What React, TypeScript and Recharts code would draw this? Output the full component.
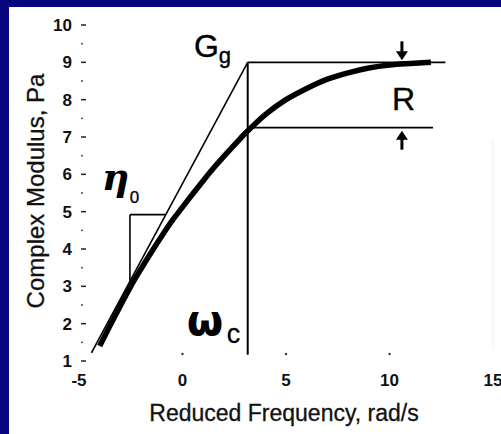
import { ComposedChart, Line, XAxis, YAxis, ReferenceLine, ReferenceDot } from 'recharts';

// reduced frequency (rad/s) vs complex modulus (Pa)
const freq = [-4, -3.5, -3, -2.5, -2, -1.5, -1, -0.5, 0, 0.5, 1, 1.5, 2, 2.5, 3, 3.5, 4, 5, 6, 7, 8, 9, 10, 11, 12];
const modulus = [1.4, 1.95, 2.48, 3.0, 3.47, 3.92, 4.35, 4.76, 5.12, 5.48, 5.83, 6.17, 6.48, 6.78, 7.08, 7.35, 7.6, 8.0, 8.3, 8.55, 8.72, 8.85, 8.93, 8.97, 9.0];

const xTicks = [-5, 0, 5, 10, 15];
const yTicks = [1, 1.5, 2, 2.5, 3, 3.5, 4, 4.5, 5, 5.5, 6, 6.5, 7, 7.5, 8, 8.5, 9, 9.5, 10];

// construction values
const omegaC = 3.15;
const glassyModulus = 9;
const crossModulus = 7.25;
const tangentStart = { x: -4.4, y: 1.22 };
const slopeBox = { x1: -2.54, x2: -0.8, yLow: 3.12, yHigh: 4.92 };
const arrowX = 10.6;

const curve = freq.map((f, i) => ({ f, g: modulus[i] }));

const FONT = '"Liberation Sans", Arial, Helvetica, sans-serif';

const YTick = ({ x, y, payload }: any) => {
  const v = payload.value;
  if (v % 1 !== 0) {
    return <circle cx={x + 3} cy={y} r={0.9} fill="#333" />;
  }
  return (
    <g>
      <line x1={x + 2} x2={x + 7} y1={y} y2={y} stroke="#222" strokeWidth={1.5} />
      <text x={x - 7} y={y + 6} textAnchor="end" fontFamily={FONT} fontWeight="bold" fontSize={17} fill="#111">
        {v}
      </text>
    </g>
  );
};

const XTick = ({ x, y, payload }: any) => {
  const v = payload.value;
  return (
    <g>
      {v > -5 && v < 15 && <circle cx={x} cy={y - 7} r={1.2} fill="#333" />}
      <text x={x} y={y + 25} textAnchor="middle" fontFamily={FONT} fontWeight="bold" fontSize={17} fill="#111">
        {v}
      </text>
    </g>
  );
};

const DownArrow = ({ cx, cy }: any) => (
  <g>
    <line x1={cx} x2={cx} y1={cy - 21} y2={cy - 10} stroke="#000" strokeWidth={3} />
    <polygon points={`${cx - 6},${cy - 11} ${cx + 6},${cy - 11} ${cx},${cy - 2}`} fill="#000" />
  </g>
);

const UpArrow = ({ cx, cy }: any) => (
  <g>
    <line x1={cx} x2={cx} y1={cy + 22} y2={cy + 11} stroke="#000" strokeWidth={3} />
    <polygon points={`${cx - 6},${cy + 12} ${cx + 6},${cy + 12} ${cx},${cy + 3}`} fill="#000" />
  </g>
);

export default function App() {
  return (
    <div style={{ position: 'fixed', left: 0, top: 0, width: 501, height: 434, background: '#05067f', overflow: 'hidden' }}>
      <div style={{ position: 'absolute', left: 9, top: 7, width: 492, height: 427, background: '#fff' }} />
      <div style={{ position: 'absolute', left: 0, top: 0 }}>
        <ComposedChart width={501} height={434} data={curve} margin={{ top: 25, right: 8, bottom: 0, left: 19 }}>
          <XAxis
            type="number"
            dataKey="f"
            domain={[-5, 15]}
            ticks={xTicks}
            interval={0}
            axisLine={false}
            tickLine={false}
            tickSize={0}
            tickMargin={0}
            height={73}
            tick={<XTick />}
            label={{
              content: ({ viewBox }: any) => (
                <text x={viewBox.x + viewBox.width / 2 - 2} y={viewBox.y + 60} textAnchor="middle" fontFamily={FONT} fontSize={23} fill="#111" stroke="#111" strokeWidth={0.3}>
                  Reduced Frequency, rad/s
                </text>
              ),
            }}
          />
          <YAxis
            type="number"
            domain={[1, 10]}
            ticks={yTicks}
            interval={0}
            axisLine={false}
            tickLine={false}
            tickSize={0}
            tickMargin={0}
            width={60}
            tick={<YTick />}
            label={{
              content: ({ viewBox }: any) => {
                const cx = viewBox.x + 16;
                const cy = viewBox.y + viewBox.height / 2 - 2;
                return (
                  <text x={cx} y={cy} transform={`rotate(-90 ${cx} ${cy})`} textAnchor="middle" dominantBaseline="central" fontFamily={FONT} fontSize={24} fill="#111" stroke="#111" strokeWidth={0.3}>
                    Complex Modulus, Pa
                  </text>
                );
              },
            }}
          />

          {/* baseline */}
          <ReferenceLine segment={[{ x: -5.05, y: 1 }, { x: 13.8, y: 1 }]} stroke="#9a9a9a" strokeWidth={1} />
          <ReferenceLine segment={[{ x: 15, y: 1.3 }, { x: 15, y: 6.9 }]} stroke="#eeeeee" strokeWidth={1} />

          {/* construction lines */}
          <ReferenceLine segment={[tangentStart, { x: omegaC, y: glassyModulus }]} stroke="#000" strokeWidth={1.6} />
          <ReferenceLine segment={[{ x: omegaC, y: glassyModulus }, { x: 12.7, y: glassyModulus }]} stroke="#000" strokeWidth={1.6} />
          <ReferenceLine segment={[{ x: omegaC, y: crossModulus }, { x: 12.1, y: crossModulus }]} stroke="#000" strokeWidth={1.6} />
          <ReferenceLine segment={[{ x: omegaC, y: glassyModulus }, { x: omegaC, y: 1.17 }]} stroke="#000" strokeWidth={2} />
          <ReferenceLine segment={[{ x: slopeBox.x1, y: slopeBox.yLow }, { x: slopeBox.x1, y: slopeBox.yHigh }]} stroke="#000" strokeWidth={1.6} />
          <ReferenceLine segment={[{ x: slopeBox.x1, y: slopeBox.yHigh }, { x: slopeBox.x2, y: slopeBox.yHigh }]} stroke="#000" strokeWidth={1.6} />

          <Line type="monotone" dataKey="g" stroke="#000" strokeWidth={5.5} dot={false} isAnimationActive={false} />

          {/* annotations */}
          <ReferenceDot x={arrowX} y={glassyModulus} r={0} shape={<DownArrow />} />
          <ReferenceDot x={arrowX} y={crossModulus} r={0} shape={<UpArrow />} />
          <ReferenceDot
            x={0.55}
            y={9.15}
            r={0}
            shape={({ cx, cy }: any) => (
              <text x={cx} y={cy} fontFamily={FONT} fontSize={32} fill="#000" stroke="#000" strokeWidth={0.4}>
                G<tspan fontSize={22} dy={6}>g</tspan>
              </text>
            )}
          />
          <ReferenceDot
            x={10.12}
            y={7.72}
            r={0}
            shape={({ cx, cy }: any) => (
              <text x={cx} y={cy} fontFamily={FONT} fontSize={32} fill="#000" stroke="#000" strokeWidth={0.4}>
                R
              </text>
            )}
          />
          <ReferenceDot
            x={-3.9}
            y={5.58}
            r={0}
            shape={({ cx, cy }: any) => (
              <g>
                <text x={cx} y={cy} fontFamily='"DejaVu Serif", serif' fontStyle="italic" fontWeight="bold" fontSize={38} fill="#000">
                  η
                </text>
                <text x={cx + 28} y={cy + 13} fontFamily={FONT} fontSize={17} fill="#000" stroke="#000" strokeWidth={0.3}>
                  0
                </text>
              </g>
            )}
          />
          <ReferenceDot
            x={0.2}
            y={1.7}
            r={0}
            shape={({ cx, cy }: any) => (
              <g>
                <text x={cx} y={cy} fontFamily='"DejaVu Sans", sans-serif' fontWeight="bold" fontSize={42} fill="#000">
                  ω
                </text>
                <text x={cx + 40} y={cy + 8} fontFamily={FONT} fontSize={27} fill="#000" stroke="#000" strokeWidth={0.3}>
                  c
                </text>
              </g>
            )}
          />
        </ComposedChart>
      </div>
    </div>
  );
}
